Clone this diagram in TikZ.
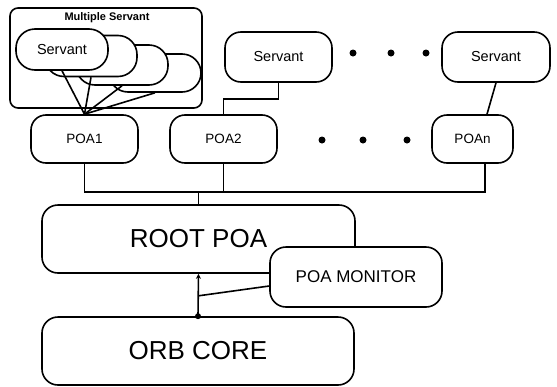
\documentclass[tikz,border=0pt]{standalone}
\usepackage{fontspec}
\setmainfont{Liberation Sans}
\usetikzlibrary{calc,arrows.meta}
\tikzset{
  box/.style={draw, line width=1.6pt, fill=white, rounded corners=#1, inner sep=0pt},
  box/.default=14pt,
  link/.style={line width=1.6pt},
  dotmark/.style={circle, fill=black, inner sep=0pt, minimum size=7pt}
}
\begin{document}
\begin{tikzpicture}[x=1pt,y=-1pt]
\useasboundingbox (0,0) rectangle (557,386);
% Multiple servant group
\node[box=8pt, minimum width=192pt, minimum height=100pt] (ms) at (106,58) {};
\node[font=\bfseries\fontsize{11}{12}\selectfont] (mslabel) at (107,18) {Multiple Servant};
\node[box=19pt, minimum width=92pt, minimum height=38pt] (s4) at (155,73) {};
\node[box=19pt, minimum width=92pt, minimum height=40pt] (s3) at (122,65) {};
\node[box=19pt, minimum width=92pt, minimum height=41pt] (s2) at (91,56) {};
\node[box=19pt, minimum width=92pt, minimum height=41pt, font=\fontsize{14.5}{16}\selectfont] (s1) at (62,49.5) {Servant};
% POAs
\node[box=15pt, minimum width=107pt, minimum height=48pt, font=\fontsize{13.5}{15}\selectfont] (poa1) at (84.5,139) {POA1};
\node[box=15pt, minimum width=107pt, minimum height=48pt, font=\fontsize{13.5}{15}\selectfont] (poa2) at (223.5,139) {POA2};
\node[box=15pt, minimum width=81pt, minimum height=48pt, font=\fontsize{13.5}{15}\selectfont] (poan) at (472.5,139) {POAn};
% Servants
\node[box=16pt, minimum width=107pt, minimum height=50pt, font=\fontsize{14.5}{16}\selectfont] (sv2) at (278.5,57) {Servant};
\node[box=16pt, minimum width=108pt, minimum height=50pt, font=\fontsize{14.5}{16}\selectfont] (svn) at (496,57) {Servant};
% dots
\node[dotmark] (d1) at (353,53) {};
\node[dotmark] (d2) at (391,53) {};
\node[dotmark] (d3) at (426,53) {};
\node[dotmark] (d4) at (322,140) {};
\node[dotmark] (d5) at (363,140) {};
\node[dotmark] (d6) at (407,140) {};
% links from multiple servants
\draw[link] (s1.south) -- (poa1.north);
\draw[link] (s2.south) -- (poa1.north);
\draw[link] (s3.south) -- (poa1.north);
\draw[link] (s4.south) -- (poa1.north);
% servant to POA
\coordinate (k) at (0,99);
\draw[link] (sv2.south) -- (sv2.south |- k) -| (poa2.north);
\draw[link] (svn.south) -- ([xshift=14.5pt]poan.north);
% root and orb
\node[box=16pt, minimum width=313pt, minimum height=68pt, font=\fontsize{26}{28}\selectfont] (root) at (198.5,239) {ROOT POA};
\node[box=16pt, minimum width=172pt, minimum height=60pt, font=\fontsize{17}{19}\selectfont] (mon) at (356,277) {POA MONITOR};
\node[box=16pt, minimum width=312pt, minimum height=68pt, font=\fontsize{26}{28}\selectfont] (orb) at (198,351) {ORB CORE};
% bus
\coordinate (busy) at (0,192);
\draw[link] (poa1.south) -- (poa1.south |- busy) -- ($(poan.south |- busy)+(12.5,0)$) -- ([xshift=12.5pt]poan.south);
\draw[link] (poa2.south) -- (poa2.south |- busy);
\draw[link] (root.north) -- (root.north |- busy);
% root - orb
\draw[link, {Stealth[length=5pt,width=5pt]}-] (root.south) -- (orb.north);
\node[circle, fill=black, inner sep=0pt, minimum size=6pt] (jd) at (orb.north) {};
\coordinate (j) at ($(root.south)!0.52!(orb.north)$);
\draw[link] (j) -- ([yshift=-9pt]mon.west);
\end{tikzpicture}
\end{document}
